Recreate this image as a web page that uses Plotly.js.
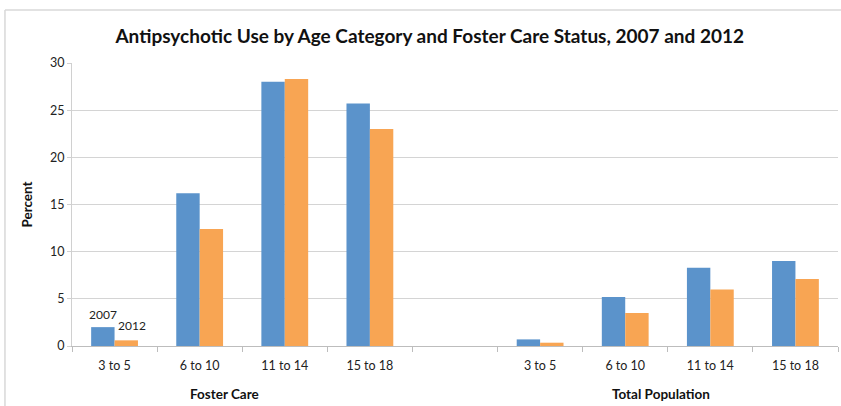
<!DOCTYPE html>
<html><head><meta charset="utf-8">
<script src="https://cdn.plot.ly/plotly-3.0.1.min.js"></script>
<style>html,body{margin:0;padding:0;background:#fff}#chart{width:841px;height:406px}</style>
</head><body><div id="chart"></div>
<script>
// Slots on the x axis: 4 Foster Care age groups, an empty gap slot, 4 Total Population age groups
const tickLabels = ["3 to 5","6 to 10","11 to 14","15 to 18","","3 to 5","6 to 10","11 to 14","15 to 18"];
const slots = [0,1,2,3,4,5,6,7,8];
const groupLabels = ["Foster Care","Total Population"];
const groupCenters = [1.5, 6.5];
const series2007 = [2.0, 16.2, 28.0, 25.7, null, 0.7, 5.2, 8.3, 9.0];
const series2012 = [0.6, 12.4, 28.3, 23.0, null, 0.35, 3.5, 6.0, 7.1];
const seriesNames = ["2007","2012"];

const font = "Lato, 'Open Sans', sans-serif";
const traces = [
  {type:'bar', x:slots, y:series2007, name:seriesNames[0], marker:{color:'#5b93cb'}, hoverinfo:'x+y'},
  {type:'bar', x:slots, y:series2012, name:seriesNames[1], marker:{color:'#f8a553'}, hoverinfo:'x+y'}
];
const boundaries = [];
for (let i = 0; i <= slots.length; i++) boundaries.push(i - 0.5);

const annotations = [
  {x:0, y:series2007[0], xref:'x', yref:'y', text:seriesNames[0], showarrow:false, xshift:-12, yshift:13, font:{family:font, size:12, color:'#222'}},
  {x:0, y:series2012[0], xref:'x', yref:'y', text:seriesNames[1], showarrow:false, xshift:17, yshift:15, font:{family:font, size:12, color:'#222'}}
];
groupLabels.forEach((g, i) => annotations.push({
  x: groupCenters[i], y: 0, xref:'x', yref:'paper', text:'<b>'+g+'</b>', showarrow:false,
  yanchor:'top', yshift:-38, xshift: i === 0 ? -18 : -7, font:{family:font, size:13.5, color:'#111'}
}));

const layout = {
  width:841, height:406,
  margin:{l:72, r:3, t:63, b:60},
  paper_bgcolor:'#fff', plot_bgcolor:'#fff',
  showlegend:false,
  barmode:'group', bargap:0.45, bargroupgap:0,
  title:{text:'<b>Antipsychotic Use by Age Category and Foster Care Status, 2007 and 2012</b>',
         x:0.511, xanchor:'center', y:0.91, yanchor:'middle', font:{family:font, size:19, color:'#111'}},
  xaxis:{range:[-0.5, 8.5], tickmode:'array', tickvals:slots, ticktext:tickLabels,
         ticks:'', ticklabelstandoff:8, showgrid:false, zeroline:false, showline:true, linecolor:'#bdbdbd', linewidth:1,
         tickfont:{family:font, size:12.5, color:'#222'},
         minor:{tickmode:'array', tickvals:boundaries, ticks:'outside', ticklen:5, tickcolor:'#bdbdbd', showgrid:false}},
  yaxis:{range:[0, 30], tickvals:[0,5,10,15,20,25,30], ticks:'outside', ticklen:4, tickcolor:'#d0d0d0',
         showgrid:true, gridcolor:'#d4d4d4', gridwidth:1, zeroline:false, showline:true, linecolor:'#d0d0d0',
         tickfont:{family:font, size:12.5, color:'#222'},
         title:{text:'<b>Percent</b>', font:{family:font, size:13.5, color:'#111'}, standoff:14}},
  annotations: annotations,
  shapes:[
    {type:'line', xref:'paper', yref:'paper', x0:-0.0875, x1:1.01, y0:1.187, y1:1.187, line:{color:'#d8d8d8', width:1.5}},
    {type:'line', xref:'paper', yref:'paper', x0:-0.0875, x1:-0.0875, y0:1.187, y1:-0.22, line:{color:'#d8d8d8', width:1.5}}
  ]
};
Plotly.newPlot('chart', traces, layout, {displayModeBar:false, staticPlot:true});
</script></body></html>
